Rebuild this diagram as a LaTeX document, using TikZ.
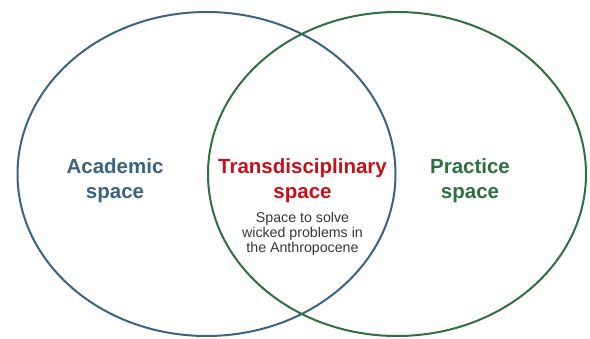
\documentclass[tikz,border=0pt]{standalone}
\usepackage{fontspec}
\setmainfont{Liberation Sans}
\usepackage{tikz}
\usetikzlibrary{shapes.geometric,positioning}
\usepackage{xcolor}
\definecolor{acadblue}{RGB}{59,99,130}
\definecolor{pracgreen}{RGB}{46,112,64}
\definecolor{transred}{RGB}{200,16,26}
\definecolor{notegray}{RGB}{55,55,55}

\begin{document}
\begin{tikzpicture}[x=1pt, y=-1pt, every node/.style={align=center},
  spacering/.style={draw, ellipse, line width=2pt, minimum width=378pt, minimum height=324pt, inner sep=0pt},
  spacetitle/.style={font=\fontsize{20.5}{25}\selectfont\bfseries}]
  \useasboundingbox (0,0) rectangle (590,339);
  % the two spaces
  \node[spacering, acadblue] (acad) at (206.5,174) {};
  \node[spacering, pracgreen] (prac) at (397,174) {};
  % labels
  \node[spacetitle, text=acadblue] (acadlbl) at (115,181) {Academic\\space};
  \node[spacetitle, text=pracgreen] (praclbl) at (470,181) {Practice\\space};
  \node[spacetitle, text=transred] (trans) at (302.5,181) {Transdisciplinary\\space};
  \node[below=2pt of trans, font=\fontsize{14.2}{15}\selectfont, text=notegray] (note) {Space to solve\\wicked problems in\\the Anthropocene};
\end{tikzpicture}
\end{document}
